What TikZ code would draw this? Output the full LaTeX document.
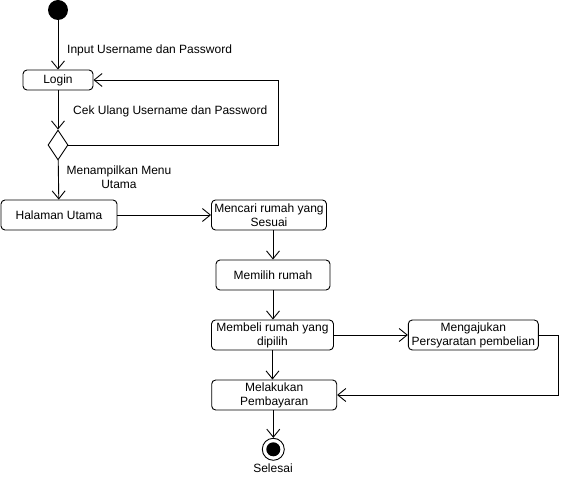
\documentclass[tikz,border=0pt]{standalone}
\usepackage{fontspec}
\setmainfont{Liberation Sans}
\usetikzlibrary{arrows.meta,shapes.geometric}
\tikzset{
  act/.style={draw, rounded corners=4pt, line width=0.9pt, align=center, inner sep=0pt, font=\fontsize{12}{14}\selectfont},
  flow/.style={draw, line width=0.9pt, -{Straight Barb[length=8pt,width=13pt,line width=0.9pt]}},
  lbl/.style={inner sep=0pt, align=center, font=\fontsize{12}{14}\selectfont},
}
\begin{document}
\begin{tikzpicture}[x=1pt,y=-1pt]
\useasboundingbox (0,0) rectangle (571,481);
% nodes
\node[circle, fill=black, minimum size=20pt, inner sep=0pt] (start) at (58,10) {};
\node[act, minimum width=70pt, minimum height=20pt] (login) at (58,80) {Login};
\node[diamond, draw, line width=0.9pt, minimum width=20pt, minimum height=30pt, inner sep=0pt] (dec) at (58,145) {};
\node[act, minimum width=116pt, minimum height=30pt] (halaman) at (59,215) {Halaman Utama};
\node[act, minimum width=115pt, minimum height=30pt] (mencari) at (269,215) {Mencari rumah yang\\Sesuai};
\node[act, minimum width=114pt, minimum height=30pt] (memilih) at (273,275) {Memilih rumah};
\node[act, minimum width=122pt, minimum height=30pt] (membeli) at (272.5,335) {Membeli rumah yang\\dipilih};
\node[act, minimum width=130pt, minimum height=30pt] (mengajukan) at (473.3,335) {Mengajukan\\Persyaratan pembelian};
\node[act, minimum width=125pt, minimum height=30pt] (melakukan) at (274.2,395) {Melakukan\\Pembayaran};
\node[circle, draw, line width=0.9pt, minimum size=22pt, inner sep=0pt] (end) at (273.3,449.3) {};
\node[circle, fill=black, minimum size=14pt, inner sep=0pt] (endin) at (end.center) {};
% labels
\node[lbl, anchor=west] (l1) at (67,50) {Input Username dan Password};
\node[lbl, anchor=west] (l2) at (73,111) {Cek Ulang Username dan Password};
\node[lbl] (l3) at (119,177) {Menampilkan Menu\\Utama};
\node[lbl] (l4) at (273,468) {Selesai};
% coordinates
\coordinate (fb) at (278,80);
\coordinate (mr) at (558,395);
% connectors
\draw[flow] (start) -- (login);
\draw[flow] (login) -- (dec);
\draw[flow] (dec.east) -| (fb) -- (login.east);
\draw[flow] (dec) -- (halaman);
\draw[flow] (halaman) -- (mencari);
\draw[flow] (mencari.south -| memilih.north) -- (memilih.north);
\draw[flow] (memilih.south) -- (memilih.south |- membeli.north);
\draw[flow] (membeli) -- (mengajukan);
\draw[flow] (membeli.south) -- (membeli.south |- melakukan.north);
\draw[flow] (mengajukan.east) -| (mr) -- (melakukan.east);
\draw[flow] (melakukan.south -| end.north) -- (end.north);
\end{tikzpicture}
\end{document}
